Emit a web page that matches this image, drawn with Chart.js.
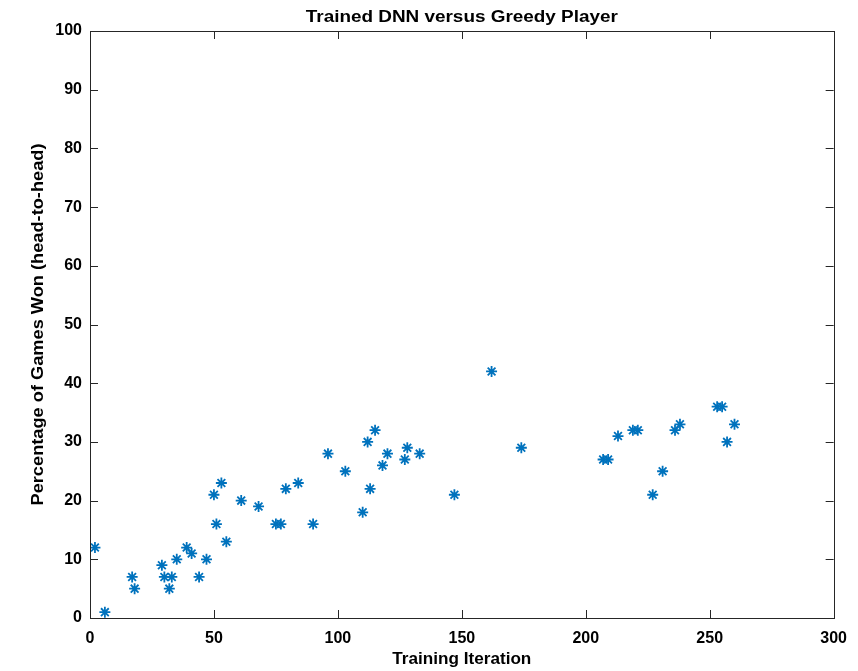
<!DOCTYPE html>
<html>
<head>
<meta charset="utf-8">
<script src="https://cdn.jsdelivr.net/npm/chart.js@4.4.0/dist/chart.umd.min.js"></script>
<style>
  html, body { margin: 0; padding: 0; background: #fff; }
  #wrap { width: 858px; height: 671px; position: relative; }
</style>
</head>
<body>
<div id="wrap"><canvas id="c" width="858" height="671"></canvas></div>
<script>
const chartTitle = "Trained DNN versus Greedy Player";
const xAxisTitle = "Training Iteration";
const yAxisTitle = "Percentage of Games Won (head-to-head)";
const xTicks = [0, 50, 100, 150, 200, 250, 300];
const yTicks = [0, 10, 20, 30, 40, 50, 60, 70, 80, 90, 100];

const iterations = [2, 6, 17, 18, 29, 30, 32, 33, 35, 39, 41, 44, 47, 50, 51, 53, 55,
  61, 68, 75, 77, 79, 84, 90, 96, 103, 110, 112, 113, 115, 118, 120, 127, 128, 133,
  147, 162, 174, 207, 209, 213, 219, 221, 227, 231, 236, 238, 253, 255, 257, 260];
const winPct = [12, 1, 7, 5, 9, 7, 5, 7, 10, 12, 11, 7, 10, 21, 16, 23, 13,
  20, 19, 16, 16, 22, 23, 16, 28, 25, 18, 30, 22, 32, 26, 28, 27, 29, 28,
  21, 42, 29, 27, 27, 31, 32, 32, 21, 25, 32, 33, 36, 36, 30, 33];

const points = iterations.map((x, i) => ({ x: x, y: winPct[i] }));

const FONT = "'Liberation Sans', Arial, Helvetica, sans-serif";
const AXIS_COLOR = "#262626";

// draw text centred at (x, y) with a target width (horizontal stretch)
function fitText(ctx, text, x, y, targetWidth) {
  const w = ctx.measureText(text).width;
  const sx = targetWidth / w;
  ctx.save();
  ctx.translate(x, y);
  ctx.scale(sx, 1);
  ctx.fillText(text, 0, 0);
  ctx.restore();
}

const boxPlugin = {
  id: "matlabBox",
  afterDraw(chart) {
    const { ctx, chartArea: a, scales } = chart;
    ctx.save();
    ctx.strokeStyle = AXIS_COLOR;
    ctx.lineWidth = 1;
    ctx.strokeRect(Math.round(a.left) + 0.5, Math.round(a.top) + 0.5,
      Math.round(a.right - a.left), Math.round(a.bottom - a.top));
    const tl = 8;
    ctx.beginPath();
    xTicks.forEach(v => {
      const px = Math.round(scales.x.getPixelForValue(v)) + 0.5;
      ctx.moveTo(px, a.bottom); ctx.lineTo(px, a.bottom - tl);
      ctx.moveTo(px, a.top); ctx.lineTo(px, a.top + tl);
    });
    yTicks.forEach(v => {
      const py = Math.round(scales.y.getPixelForValue(v)) + 0.5;
      ctx.moveTo(a.left, py); ctx.lineTo(a.left + tl, py);
      ctx.moveTo(a.right, py); ctx.lineTo(a.right - tl, py);
    });
    ctx.stroke();
    ctx.fillStyle = "#000";
    ctx.textAlign = "center";
    ctx.textBaseline = "middle";
    ctx.font = "bold 16px " + FONT;
    fitText(ctx, chartTitle, (a.left + a.right) / 2, 18, 312);
    ctx.font = "bold 16px " + FONT;
    fitText(ctx, xAxisTitle, (a.left + a.right) / 2, 660, 139);
    ctx.save();
    ctx.translate(38, (a.top + a.bottom) / 2);
    ctx.rotate(-Math.PI / 2);
    ctx.font = "bold 17px " + FONT;
    fitText(ctx, yAxisTitle, 0, 0, 362);
    ctx.restore();
    ctx.restore();
  }
};

new Chart(document.getElementById("c"), {
  type: "scatter",
  data: {
    datasets: [{
      data: points,
      pointStyle: "star",
      pointRadius: 5.5,
      pointHoverRadius: 5.5,
      borderColor: "#0072BD",
      backgroundColor: "#0072BD",
      pointBorderWidth: 1.8,
      showLine: false
    }]
  },
  options: {
    responsive: false,
    animation: false,
    devicePixelRatio: 1,
    layout: { padding: { top: 31, right: 24, left: 0, bottom: 0 } },
    plugins: { legend: { display: false }, title: { display: false }, tooltip: { enabled: false } },
    scales: {
      x: {
        type: "linear",
        min: 0, max: 300,
        afterFit: s => { s.height = 53; },
        afterBuildTicks: s => { s.ticks = xTicks.map(v => ({ value: v })); },
        grid: { display: false, drawTicks: false },
        border: { display: false },
        ticks: { color: "#000", font: { family: FONT, size: 16, weight: "bold" }, padding: 11, maxRotation: 0 }
      },
      y: {
        type: "linear",
        min: 0, max: 100,
        afterFit: s => { s.width = 90; },
        afterBuildTicks: s => { s.ticks = yTicks.map(v => ({ value: v })); },
        grid: { display: false, drawTicks: false },
        border: { display: false },
        ticks: { color: "#000", font: { family: FONT, size: 16, weight: "bold" }, padding: 8 }
      }
    }
  },
  plugins: [boxPlugin]
});
</script>
</body>
</html>
